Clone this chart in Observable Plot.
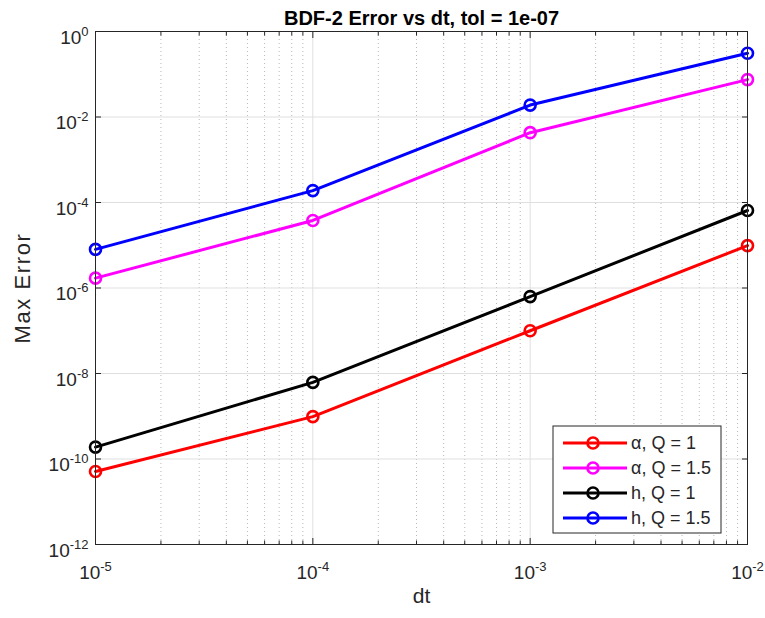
<!DOCTYPE html>
<html><head><meta charset="utf-8">
<script src="https://cdn.jsdelivr.net/npm/d3@7"></script>
<script src="https://cdn.jsdelivr.net/npm/@observablehq/plot@0.6"></script>
<style>html,body{margin:0;padding:0;background:#fff;} #chart{width:765px;height:618px;}</style>
</head><body><div id="chart"></div>
<script>
// ---- data ----
const dt = [1e-5, 1e-4, 1e-3, 1e-2];
const errAlphaQ1  = [5.1e-11, 9.8e-10, 1.0e-7, 9.8e-6];
const errAlphaQ15 = [1.7e-6, 3.8e-5, 4.3e-3, 7.5e-2];
const errHQ1      = [1.9e-10, 6.2e-9, 6.3e-7, 6.5e-5];
const errHQ15     = [8.0e-6, 1.9e-4, 1.9e-2, 3.1e-1];
const seriesNames = ["α, Q = 1", "α, Q = 1.5", "h, Q = 1", "h, Q = 1.5"];
const seriesValues = [errAlphaQ1, errAlphaQ15, errHQ1, errHQ15];
const seriesColors = ["#ff0000", "#ff00ff", "#000000", "#0000ff"];
const xMajorTicks = [1e-5, 1e-4, 1e-3, 1e-2];
const xTickLabels = ["10^-5", "10^-4", "10^-3", "10^-2"];
const yMajorTicks = [1e-12, 1e-10, 1e-8, 1e-6, 1e-4, 1e-2, 1e0];
const yTickLabels = ["10^-12", "10^-10", "10^-8", "10^-6", "10^-4", "10^-2", "10^0"];
const minorMultipliers = [2, 3, 4, 5, 6, 7, 8, 9];
const titleText = "BDF-2 Error vs dt, tol = 1e-07";
const xLabel = "dt";
const yLabel = "Max Error";

// ---- derived tables ----
const rows = [];
seriesNames.forEach((name, i) => dt.forEach((d, j) => rows.push({series: name, dt: d, err: seriesValues[i][j]})));
const xMinorTicks = [];
xMajorTicks.slice(0, -1).forEach(d => minorMultipliers.forEach(m => xMinorTicks.push(m * d)));
const xInnerMajor = xMajorTicks.slice(1, -1);
const yInnerMajor = yMajorTicks.slice(1, -1);
const xFmt = d => xTickLabels[xMajorTicks.indexOf(d)];
const yFmt = d => yTickLabels[yMajorTicks.indexOf(d)];

const axisColor = "#262626";
const font = "'Liberation Sans', Arial, Helvetica, sans-serif";

const seriesMarks = [];
seriesNames.forEach((name, i) => {
  const data = rows.filter(r => r.series === name);
  seriesMarks.push(Plot.line(data, {x: "dt", y: "err", stroke: seriesColors[i], strokeWidth: 3}));
  seriesMarks.push(Plot.dot(data, {x: "dt", y: "err", stroke: seriesColors[i], fill: "none", r: 5.5, strokeWidth: 2.6}));
});

const chart = Plot.plot({
  width: 765,
  height: 618,
  marginLeft: 95,
  marginRight: 18,
  marginTop: 31,
  marginBottom: 74,
  style: {fontFamily: font, color: axisColor, background: "#fff"},
  x: {type: "log", domain: [1e-5, 1e-2]},
  y: {type: "log", domain: [1e-12, 1]},
  marks: [
    Plot.ruleX(xMinorTicks, {stroke: "#b8b8b8", strokeDasharray: "1,3", strokeWidth: 1}),
    Plot.ruleX(xInnerMajor, {stroke: "#dfdfdf", strokeWidth: 1}),
    Plot.ruleY(yInnerMajor, {stroke: "#dfdfdf", strokeWidth: 1}),
    ...seriesMarks,
    Plot.frame({stroke: axisColor, strokeWidth: 1}),
    // inward ticks
    Plot.axisX(xMajorTicks, {anchor: "bottom", tickSize: -6, fill: "none", label: null, stroke: axisColor}),
    Plot.axisX(xMajorTicks, {anchor: "top", tickSize: -6, fill: "none", label: null, stroke: axisColor}),
    Plot.axisX(xMinorTicks, {anchor: "bottom", tickSize: -3.5, fill: "none", label: null, stroke: axisColor}),
    Plot.axisX(xMinorTicks, {anchor: "top", tickSize: -3.5, fill: "none", label: null, stroke: axisColor}),
    Plot.axisY(yMajorTicks, {anchor: "left", tickSize: -6, fill: "none", label: null, stroke: axisColor}),
    Plot.axisY(yMajorTicks, {anchor: "right", tickSize: -6, fill: "none", label: null, stroke: axisColor}),
    // tick labels
    Plot.axisX(xMajorTicks, {anchor: "bottom", tickSize: 0, tickPadding: 21, tickFormat: xFmt, fontSize: 19, label: null, fill: axisColor}),
    Plot.axisY(yMajorTicks, {anchor: "left", tickSize: 0, tickPadding: 7, dy: 6, tickFormat: yFmt, fontSize: 19, label: null, fill: axisColor}),
    // labels
    Plot.text([yLabel], {frameAnchor: "left", textAnchor: "middle", dx: -73, rotate: -90, fontSize: 22, fill: axisColor}),
    Plot.text([xLabel], {frameAnchor: "bottom", textAnchor: "middle", dy: 58, fontSize: 21, fill: axisColor}),
    Plot.text([titleText], {frameAnchor: "top", textAnchor: "middle", dy: -21, fontSize: 20, fontWeight: "bold", fill: "#000"})
  ]
});

// superscript exponents
d3.select(chart).selectAll("text").each(function() {
  const m = /^10\^(-?\d+)$/.exec(this.textContent);
  if (!m) return;
  const sel = d3.select(this);
  sel.text(null);
  sel.append("tspan").attr("font-size", 19).text("10");
  sel.append("tspan").attr("dy", -8).attr("font-size", 13).text(m[1]);
});
// wider y label to match reference
d3.select(chart).selectAll("text").filter(function() { return this.textContent === yLabel; })
  .attr("letter-spacing", 1.6);

// legend
const lg = d3.select(chart).append("g").attr("font-family", font).attr("font-size", 18).attr("text-anchor", "start");
const lx = 553, ly = 426, lw = 168, lh = 107;
lg.append("rect").attr("x", lx).attr("y", ly).attr("width", lw).attr("height", lh)
  .attr("fill", "#fff").attr("stroke", axisColor).attr("stroke-width", 1);
seriesNames.forEach((name, i) => {
  const y = ly + 17 + i * 25;
  lg.append("line").attr("x1", lx + 10).attr("x2", lx + 74).attr("y1", y).attr("y2", y)
    .attr("stroke", seriesColors[i]).attr("stroke-width", 3);
  lg.append("circle").attr("cx", lx + 40).attr("cy", y).attr("r", 5.5)
    .attr("fill", "none").attr("stroke", seriesColors[i]).attr("stroke-width", 2.6);
  lg.append("text").attr("x", lx + 78).attr("y", y).attr("dy", "0.35em").attr("fill", axisColor).text(name);
});

document.getElementById("chart").appendChild(chart);
</script>
</body></html>
